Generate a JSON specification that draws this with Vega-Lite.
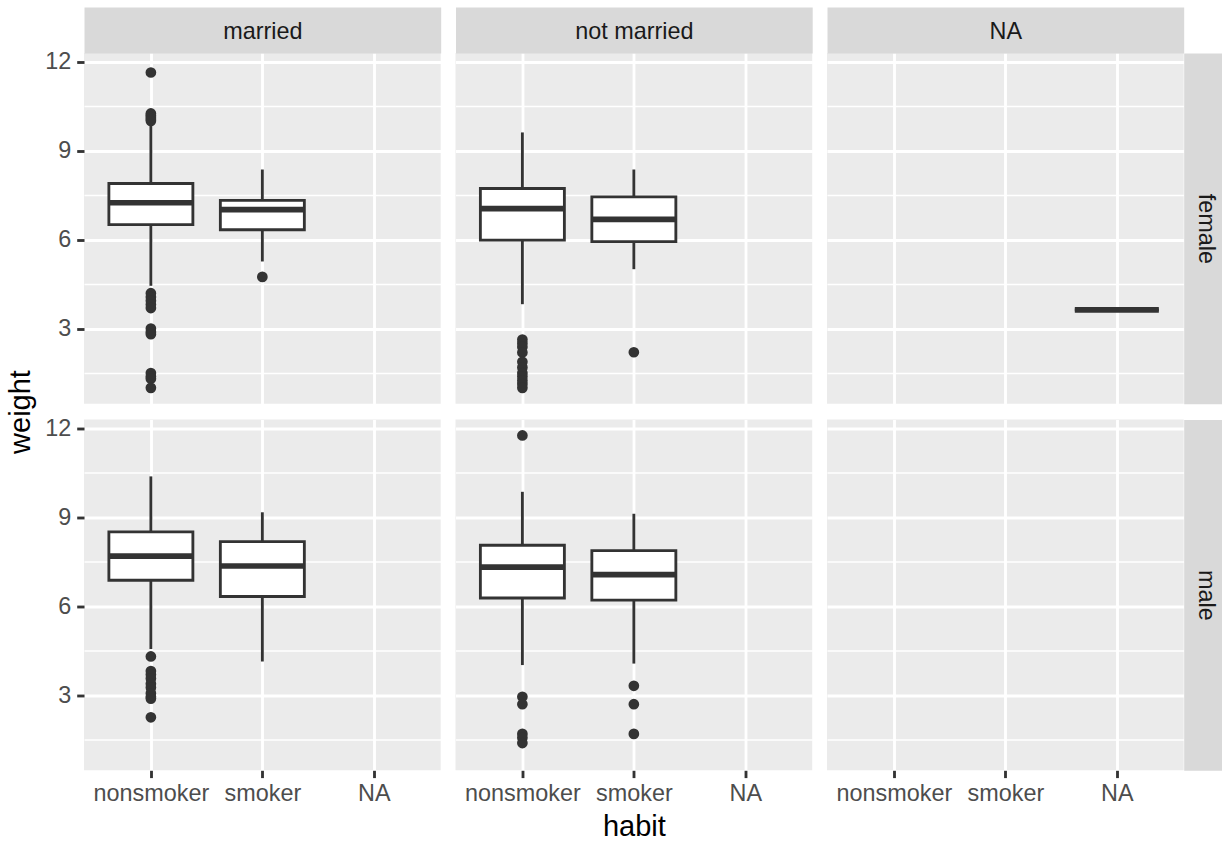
{
  "$schema": "https://vega.github.io/schema/vega-lite/v6.json",
  "padding": {"left": 6, "top": 19, "right": 12, "bottom": 0},
  "config": {
    "font": "Liberation Sans",
    "view": {"fill": "#EBEBEB", "stroke": null},
    "axis": {"titleFontWeight": "normal", "labelFont": "Liberation Sans", "titleFont": "Liberation Sans"}
  },
  "datasets": {
    "births": [
      {"kind": "box", "gender": "female", "marital": "married", "habit": "nonsmoker", "lower": 4.44, "q1": 6.5, "median": 7.24, "q3": 7.89, "upper": 9.94},
      {"kind": "box", "gender": "female", "marital": "married", "habit": "smoker", "lower": 5.26, "q1": 6.33, "median": 7.01, "q3": 7.32, "upper": 8.36},
      {"kind": "box", "gender": "female", "marital": "not married", "habit": "nonsmoker", "lower": 3.82, "q1": 5.98, "median": 7.04, "q3": 7.72, "upper": 9.61},
      {"kind": "box", "gender": "female", "marital": "not married", "habit": "smoker", "lower": 5.0, "q1": 5.93, "median": 6.68, "q3": 7.44, "upper": 8.36},
      {"kind": "box", "gender": "female", "marital": "NA", "habit": "NA", "lower": 3.63, "q1": 3.63, "median": 3.63, "q3": 3.63, "upper": 3.63},
      {"kind": "box", "gender": "male", "marital": "married", "habit": "nonsmoker", "lower": 4.55, "q1": 6.87, "median": 7.68, "q3": 8.5, "upper": 10.37},
      {"kind": "box", "gender": "male", "marital": "married", "habit": "smoker", "lower": 4.13, "q1": 6.32, "median": 7.35, "q3": 8.17, "upper": 9.16},
      {"kind": "box", "gender": "male", "marital": "not married", "habit": "nonsmoker", "lower": 4.01, "q1": 6.27, "median": 7.31, "q3": 8.05, "upper": 9.85},
      {"kind": "box", "gender": "male", "marital": "not married", "habit": "smoker", "lower": 4.06, "q1": 6.2, "median": 7.06, "q3": 7.87, "upper": 9.11},

      {"kind": "outlier", "gender": "female", "marital": "married", "habit": "nonsmoker", "weight": 11.63},
      {"kind": "outlier", "gender": "female", "marital": "married", "habit": "nonsmoker", "weight": 10.25},
      {"kind": "outlier", "gender": "female", "marital": "married", "habit": "nonsmoker", "weight": 10.19},
      {"kind": "outlier", "gender": "female", "marital": "married", "habit": "nonsmoker", "weight": 10.13},
      {"kind": "outlier", "gender": "female", "marital": "married", "habit": "nonsmoker", "weight": 10.06},
      {"kind": "outlier", "gender": "female", "marital": "married", "habit": "nonsmoker", "weight": 10.0},
      {"kind": "outlier", "gender": "female", "marital": "married", "habit": "nonsmoker", "weight": 4.19},
      {"kind": "outlier", "gender": "female", "marital": "married", "habit": "nonsmoker", "weight": 4.06},
      {"kind": "outlier", "gender": "female", "marital": "married", "habit": "nonsmoker", "weight": 3.94},
      {"kind": "outlier", "gender": "female", "marital": "married", "habit": "nonsmoker", "weight": 3.81},
      {"kind": "outlier", "gender": "female", "marital": "married", "habit": "nonsmoker", "weight": 3.69},
      {"kind": "outlier", "gender": "female", "marital": "married", "habit": "nonsmoker", "weight": 3.0},
      {"kind": "outlier", "gender": "female", "marital": "married", "habit": "nonsmoker", "weight": 2.88},
      {"kind": "outlier", "gender": "female", "marital": "married", "habit": "nonsmoker", "weight": 2.81},
      {"kind": "outlier", "gender": "female", "marital": "married", "habit": "nonsmoker", "weight": 1.5},
      {"kind": "outlier", "gender": "female", "marital": "married", "habit": "nonsmoker", "weight": 1.38},
      {"kind": "outlier", "gender": "female", "marital": "married", "habit": "nonsmoker", "weight": 1.31},
      {"kind": "outlier", "gender": "female", "marital": "married", "habit": "nonsmoker", "weight": 1.0},
      {"kind": "outlier", "gender": "female", "marital": "married", "habit": "smoker", "weight": 4.74},
      {"kind": "outlier", "gender": "female", "marital": "not married", "habit": "nonsmoker", "weight": 2.63},
      {"kind": "outlier", "gender": "female", "marital": "not married", "habit": "nonsmoker", "weight": 2.5},
      {"kind": "outlier", "gender": "female", "marital": "not married", "habit": "nonsmoker", "weight": 2.38},
      {"kind": "outlier", "gender": "female", "marital": "not married", "habit": "nonsmoker", "weight": 2.19},
      {"kind": "outlier", "gender": "female", "marital": "not married", "habit": "nonsmoker", "weight": 1.88},
      {"kind": "outlier", "gender": "female", "marital": "not married", "habit": "nonsmoker", "weight": 1.69},
      {"kind": "outlier", "gender": "female", "marital": "not married", "habit": "nonsmoker", "weight": 1.5},
      {"kind": "outlier", "gender": "female", "marital": "not married", "habit": "nonsmoker", "weight": 1.38},
      {"kind": "outlier", "gender": "female", "marital": "not married", "habit": "nonsmoker", "weight": 1.25},
      {"kind": "outlier", "gender": "female", "marital": "not married", "habit": "nonsmoker", "weight": 1.13},
      {"kind": "outlier", "gender": "female", "marital": "not married", "habit": "nonsmoker", "weight": 1.0},
      {"kind": "outlier", "gender": "female", "marital": "not married", "habit": "smoker", "weight": 2.2},
      {"kind": "outlier", "gender": "male", "marital": "married", "habit": "nonsmoker", "weight": 4.3},
      {"kind": "outlier", "gender": "male", "marital": "married", "habit": "nonsmoker", "weight": 3.81},
      {"kind": "outlier", "gender": "male", "marital": "married", "habit": "nonsmoker", "weight": 3.69},
      {"kind": "outlier", "gender": "male", "marital": "married", "habit": "nonsmoker", "weight": 3.56},
      {"kind": "outlier", "gender": "male", "marital": "married", "habit": "nonsmoker", "weight": 3.38},
      {"kind": "outlier", "gender": "male", "marital": "married", "habit": "nonsmoker", "weight": 3.25},
      {"kind": "outlier", "gender": "male", "marital": "married", "habit": "nonsmoker", "weight": 3.06},
      {"kind": "outlier", "gender": "male", "marital": "married", "habit": "nonsmoker", "weight": 2.94},
      {"kind": "outlier", "gender": "male", "marital": "married", "habit": "nonsmoker", "weight": 2.88},
      {"kind": "outlier", "gender": "male", "marital": "married", "habit": "nonsmoker", "weight": 2.25},
      {"kind": "outlier", "gender": "male", "marital": "not married", "habit": "nonsmoker", "weight": 11.75},
      {"kind": "outlier", "gender": "male", "marital": "not married", "habit": "nonsmoker", "weight": 2.94},
      {"kind": "outlier", "gender": "male", "marital": "not married", "habit": "nonsmoker", "weight": 2.69},
      {"kind": "outlier", "gender": "male", "marital": "not married", "habit": "nonsmoker", "weight": 1.69},
      {"kind": "outlier", "gender": "male", "marital": "not married", "habit": "nonsmoker", "weight": 1.56},
      {"kind": "outlier", "gender": "male", "marital": "not married", "habit": "nonsmoker", "weight": 1.38},
      {"kind": "outlier", "gender": "male", "marital": "not married", "habit": "smoker", "weight": 3.31},
      {"kind": "outlier", "gender": "male", "marital": "not married", "habit": "smoker", "weight": 2.69},
      {"kind": "outlier", "gender": "male", "marital": "not married", "habit": "smoker", "weight": 1.69}
    ]
  },
  "columns": 3,
  "spacing": {"row": 15.5, "column": 14.5},
  "bounds": "flush",
  "concat": [
    {
      "width": 356.7, "height": 350.8,
      "data": {"name": "births"},
      "transform": [{"filter": "datum.gender === 'female' && datum.marital === 'married'"}],
      "encoding": {
        "x": {"field": "habit", "type": "nominal", "scale": {"type": "point", "domain": ["nonsmoker", "smoker", "NA"], "padding": 0.6},
          "axis": {"orient": "top", "grid": true, "gridColor": "#FFFFFF", "gridWidth": 2.84, "ticks": false, "labels": false, "domain": true, "domainColor": "#D9D9D9", "domainWidth": 46, "domainCap": "butt", "offset": 23, "title": "married", "titleY": 8, "titleBaseline": "alphabetic", "titleFontSize": 23.4, "titleColor": "#1A1A1A"}}
      },
      "layer": [
        {"transform": [{"filter": "datum.kind === 'box'"}], "mark": {"type": "rule", "color": "#333333", "strokeWidth": 2.84},
          "encoding": {"y": {"field": "lower", "type": "quantitative", "scale": {"domain": [0.4625, 12.2875], "nice": false, "zero": false},
            "axis": {"orient": "left", "values": [1.5, 3, 4.5, 6, 7.5, 9, 10.5, 12], "grid": true, "gridColor": "#FFFFFF", "gridWidth": {"condition": {"test": "datum.value % 3 !== 0", "value": 1.42}, "value": 2.84}, "domain": false, "ticks": true, "tickColor": "#333333", "tickWidth": 2.84, "tickSize": 7.3, "tickOpacity": {"condition": {"test": "datum.value % 3 !== 0", "value": 0}, "value": 1}, "labelExpr": "datum.value % 3 === 0 ? datum.label : ''", "labelOverlap": false, "labelFontSize": 23.4, "labelColor": "#4D4D4D", "labelPadding": 6, "title": "weight", "titleFontSize": 29, "titleColor": "#000000", "titleX": -55, "titleY": 358.5, "titleAngle": 270, "titleBaseline": "alphabetic", "titleAlign": "center"}},
            "y2": {"field": "upper"}}},
        {"transform": [{"filter": "datum.kind === 'box'"}], "mark": {"type": "bar", "size": 84, "fill": "#FFFFFF", "stroke": "#333333", "strokeWidth": 2.84},
          "encoding": {"y": {"field": "q1", "type": "quantitative", "scale": {"domain": [0.4625, 12.2875], "nice": false, "zero": false},
            "axis": {"orient": "left", "values": [1.5, 3, 4.5, 6, 7.5, 9, 10.5, 12], "grid": true, "gridColor": "#FFFFFF", "gridWidth": {"condition": {"test": "datum.value % 3 !== 0", "value": 1.42}, "value": 2.84}, "domain": false, "ticks": true, "tickColor": "#333333", "tickWidth": 2.84, "tickSize": 7.3, "tickOpacity": {"condition": {"test": "datum.value % 3 !== 0", "value": 0}, "value": 1}, "labelExpr": "datum.value % 3 === 0 ? datum.label : ''", "labelOverlap": false, "labelFontSize": 23.4, "labelColor": "#4D4D4D", "labelPadding": 6, "title": "weight", "titleFontSize": 29, "titleColor": "#000000", "titleX": -55, "titleY": 358.5, "titleAngle": 270, "titleBaseline": "alphabetic", "titleAlign": "center"}},
            "y2": {"field": "q3"}}},
        {"transform": [{"filter": "datum.kind === 'box'"}], "mark": {"type": "tick", "size": 84, "thickness": 5.7, "color": "#333333", "opacity": 1},
          "encoding": {"y": {"field": "median", "type": "quantitative", "scale": {"domain": [0.4625, 12.2875], "nice": false, "zero": false},
            "axis": {"orient": "left", "values": [1.5, 3, 4.5, 6, 7.5, 9, 10.5, 12], "grid": true, "gridColor": "#FFFFFF", "gridWidth": {"condition": {"test": "datum.value % 3 !== 0", "value": 1.42}, "value": 2.84}, "domain": false, "ticks": true, "tickColor": "#333333", "tickWidth": 2.84, "tickSize": 7.3, "tickOpacity": {"condition": {"test": "datum.value % 3 !== 0", "value": 0}, "value": 1}, "labelExpr": "datum.value % 3 === 0 ? datum.label : ''", "labelOverlap": false, "labelFontSize": 23.4, "labelColor": "#4D4D4D", "labelPadding": 6, "title": "weight", "titleFontSize": 29, "titleColor": "#000000", "titleX": -55, "titleY": 358.5, "titleAngle": 270, "titleBaseline": "alphabetic", "titleAlign": "center"}}}},
        {"transform": [{"filter": "datum.kind === 'outlier'"}], "mark": {"type": "circle", "size": 115, "color": "#333333", "opacity": 1},
          "encoding": {"y": {"field": "weight", "type": "quantitative", "scale": {"domain": [0.4625, 12.2875], "nice": false, "zero": false},
            "axis": {"orient": "left", "values": [1.5, 3, 4.5, 6, 7.5, 9, 10.5, 12], "grid": true, "gridColor": "#FFFFFF", "gridWidth": {"condition": {"test": "datum.value % 3 !== 0", "value": 1.42}, "value": 2.84}, "domain": false, "ticks": true, "tickColor": "#333333", "tickWidth": 2.84, "tickSize": 7.3, "tickOpacity": {"condition": {"test": "datum.value % 3 !== 0", "value": 0}, "value": 1}, "labelExpr": "datum.value % 3 === 0 ? datum.label : ''", "labelOverlap": false, "labelFontSize": 23.4, "labelColor": "#4D4D4D", "labelPadding": 6, "title": "weight", "titleFontSize": 29, "titleColor": "#000000", "titleX": -55, "titleY": 358.5, "titleAngle": 270, "titleBaseline": "alphabetic", "titleAlign": "center"}}}}
      ]
    },
    {
      "width": 356.7, "height": 350.8,
      "data": {"name": "births"},
      "transform": [{"filter": "datum.gender === 'female' && datum.marital === 'not married'"}],
      "encoding": {
        "x": {"field": "habit", "type": "nominal", "scale": {"type": "point", "domain": ["nonsmoker", "smoker", "NA"], "padding": 0.6},
          "axis": {"orient": "top", "grid": true, "gridColor": "#FFFFFF", "gridWidth": 2.84, "ticks": false, "labels": false, "domain": true, "domainColor": "#D9D9D9", "domainWidth": 46, "domainCap": "butt", "offset": 23, "title": "not married", "titleY": 8, "titleBaseline": "alphabetic", "titleFontSize": 23.4, "titleColor": "#1A1A1A"}}
      },
      "layer": [
        {"transform": [{"filter": "datum.kind === 'box'"}], "mark": {"type": "rule", "color": "#333333", "strokeWidth": 2.84},
          "encoding": {"y": {"field": "lower", "type": "quantitative", "scale": {"domain": [0.4625, 12.2875], "nice": false, "zero": false},
            "axis": {"orient": "left", "values": [1.5, 3, 4.5, 6, 7.5, 9, 10.5, 12], "grid": true, "gridColor": "#FFFFFF", "gridWidth": {"condition": {"test": "datum.value % 3 !== 0", "value": 1.42}, "value": 2.84}, "domain": false, "ticks": false, "labels": false, "title": null}},
            "y2": {"field": "upper"}}},
        {"transform": [{"filter": "datum.kind === 'box'"}], "mark": {"type": "bar", "size": 84, "fill": "#FFFFFF", "stroke": "#333333", "strokeWidth": 2.84},
          "encoding": {"y": {"field": "q1", "type": "quantitative", "scale": {"domain": [0.4625, 12.2875], "nice": false, "zero": false},
            "axis": {"orient": "left", "values": [1.5, 3, 4.5, 6, 7.5, 9, 10.5, 12], "grid": true, "gridColor": "#FFFFFF", "gridWidth": {"condition": {"test": "datum.value % 3 !== 0", "value": 1.42}, "value": 2.84}, "domain": false, "ticks": false, "labels": false, "title": null}},
            "y2": {"field": "q3"}}},
        {"transform": [{"filter": "datum.kind === 'box'"}], "mark": {"type": "tick", "size": 84, "thickness": 5.7, "color": "#333333", "opacity": 1},
          "encoding": {"y": {"field": "median", "type": "quantitative", "scale": {"domain": [0.4625, 12.2875], "nice": false, "zero": false},
            "axis": {"orient": "left", "values": [1.5, 3, 4.5, 6, 7.5, 9, 10.5, 12], "grid": true, "gridColor": "#FFFFFF", "gridWidth": {"condition": {"test": "datum.value % 3 !== 0", "value": 1.42}, "value": 2.84}, "domain": false, "ticks": false, "labels": false, "title": null}}}},
        {"transform": [{"filter": "datum.kind === 'outlier'"}], "mark": {"type": "circle", "size": 115, "color": "#333333", "opacity": 1},
          "encoding": {"y": {"field": "weight", "type": "quantitative", "scale": {"domain": [0.4625, 12.2875], "nice": false, "zero": false},
            "axis": {"orient": "left", "values": [1.5, 3, 4.5, 6, 7.5, 9, 10.5, 12], "grid": true, "gridColor": "#FFFFFF", "gridWidth": {"condition": {"test": "datum.value % 3 !== 0", "value": 1.42}, "value": 2.84}, "domain": false, "ticks": false, "labels": false, "title": null}}}}
      ]
    },
    {
      "width": 356.7, "height": 350.8,
      "data": {"name": "births"},
      "transform": [{"filter": "datum.gender === 'female' && datum.marital === 'NA'"}],
      "encoding": {
        "x": {"field": "habit", "type": "nominal", "scale": {"type": "point", "domain": ["nonsmoker", "smoker", "NA"], "padding": 0.6},
          "axis": {"orient": "top", "grid": true, "gridColor": "#FFFFFF", "gridWidth": 2.84, "ticks": false, "labels": false, "domain": true, "domainColor": "#D9D9D9", "domainWidth": 46, "domainCap": "butt", "offset": 23, "title": "NA", "titleY": 8, "titleBaseline": "alphabetic", "titleFontSize": 23.4, "titleColor": "#1A1A1A"}}
      },
      "layer": [
        {"transform": [{"filter": "datum.kind === 'box'"}], "mark": {"type": "rule", "color": "#333333", "strokeWidth": 2.84},
          "encoding": {"y": {"field": "lower", "type": "quantitative", "scale": {"domain": [0.4625, 12.2875], "nice": false, "zero": false},
            "axis": {"orient": "right", "values": [1.5, 3, 4.5, 6, 7.5, 9, 10.5, 12], "grid": true, "gridColor": "#FFFFFF", "gridWidth": {"condition": {"test": "datum.value % 3 !== 0", "value": 1.42}, "value": 2.84}, "ticks": false, "labels": false, "domain": true, "domainColor": "#D9D9D9", "domainWidth": 39.4, "domainCap": "butt", "offset": 19.7, "title": "female", "titleAngle": 90, "titleX": -4.5, "titleBaseline": "alphabetic", "titleAlign": "center", "titleFontSize": 23.4, "titleColor": "#1A1A1A"}},
            "y2": {"field": "upper"}}},
        {"transform": [{"filter": "datum.kind === 'box'"}], "mark": {"type": "bar", "size": 84, "fill": "#FFFFFF", "stroke": "#333333", "strokeWidth": 2.84},
          "encoding": {"y": {"field": "q1", "type": "quantitative", "scale": {"domain": [0.4625, 12.2875], "nice": false, "zero": false},
            "axis": {"orient": "right", "values": [1.5, 3, 4.5, 6, 7.5, 9, 10.5, 12], "grid": true, "gridColor": "#FFFFFF", "gridWidth": {"condition": {"test": "datum.value % 3 !== 0", "value": 1.42}, "value": 2.84}, "ticks": false, "labels": false, "domain": true, "domainColor": "#D9D9D9", "domainWidth": 39.4, "domainCap": "butt", "offset": 19.7, "title": "female", "titleAngle": 90, "titleX": -4.5, "titleBaseline": "alphabetic", "titleAlign": "center", "titleFontSize": 23.4, "titleColor": "#1A1A1A"}},
            "y2": {"field": "q3"}}},
        {"transform": [{"filter": "datum.kind === 'box'"}], "mark": {"type": "tick", "size": 84, "thickness": 5.7, "color": "#333333", "opacity": 1},
          "encoding": {"y": {"field": "median", "type": "quantitative", "scale": {"domain": [0.4625, 12.2875], "nice": false, "zero": false},
            "axis": {"orient": "right", "values": [1.5, 3, 4.5, 6, 7.5, 9, 10.5, 12], "grid": true, "gridColor": "#FFFFFF", "gridWidth": {"condition": {"test": "datum.value % 3 !== 0", "value": 1.42}, "value": 2.84}, "ticks": false, "labels": false, "domain": true, "domainColor": "#D9D9D9", "domainWidth": 39.4, "domainCap": "butt", "offset": 19.7, "title": "female", "titleAngle": 90, "titleX": -4.5, "titleBaseline": "alphabetic", "titleAlign": "center", "titleFontSize": 23.4, "titleColor": "#1A1A1A"}}}},
        {"transform": [{"filter": "datum.kind === 'outlier'"}], "mark": {"type": "circle", "size": 115, "color": "#333333", "opacity": 1},
          "encoding": {"y": {"field": "weight", "type": "quantitative", "scale": {"domain": [0.4625, 12.2875], "nice": false, "zero": false},
            "axis": {"orient": "right", "values": [1.5, 3, 4.5, 6, 7.5, 9, 10.5, 12], "grid": true, "gridColor": "#FFFFFF", "gridWidth": {"condition": {"test": "datum.value % 3 !== 0", "value": 1.42}, "value": 2.84}, "ticks": false, "labels": false, "domain": true, "domainColor": "#D9D9D9", "domainWidth": 39.4, "domainCap": "butt", "offset": 19.7, "title": "female", "titleAngle": 90, "titleX": -4.5, "titleBaseline": "alphabetic", "titleAlign": "center", "titleFontSize": 23.4, "titleColor": "#1A1A1A"}}}}
      ]
    },
    {
      "width": 356.7, "height": 350.8,
      "data": {"name": "births"},
      "transform": [{"filter": "datum.gender === 'male' && datum.marital === 'married'"}],
      "encoding": {
        "x": {"field": "habit", "type": "nominal", "scale": {"type": "point", "domain": ["nonsmoker", "smoker", "NA"], "padding": 0.6},
          "axis": {"orient": "bottom", "grid": true, "gridColor": "#FFFFFF", "gridWidth": 2.84, "domain": false, "ticks": true, "tickColor": "#333333", "tickWidth": 2.84, "tickSize": 7.3, "labels": true, "labelAngle": 0, "labelFontSize": 23.4, "labelColor": "#4D4D4D", "labelBaseline": "alphabetic", "labelPadding": 23, "title": null}}
      },
      "layer": [
        {"transform": [{"filter": "datum.kind === 'box'"}], "mark": {"type": "rule", "color": "#333333", "strokeWidth": 2.84},
          "encoding": {"y": {"field": "lower", "type": "quantitative", "scale": {"domain": [0.4625, 12.2875], "nice": false, "zero": false},
            "axis": {"orient": "left", "values": [1.5, 3, 4.5, 6, 7.5, 9, 10.5, 12], "grid": true, "gridColor": "#FFFFFF", "gridWidth": {"condition": {"test": "datum.value % 3 !== 0", "value": 1.42}, "value": 2.84}, "domain": false, "ticks": true, "tickColor": "#333333", "tickWidth": 2.84, "tickSize": 7.3, "tickOpacity": {"condition": {"test": "datum.value % 3 !== 0", "value": 0}, "value": 1}, "labelExpr": "datum.value % 3 === 0 ? datum.label : ''", "labelOverlap": false, "labelFontSize": 23.4, "labelColor": "#4D4D4D", "labelPadding": 6, "title": null}},
            "y2": {"field": "upper"}}},
        {"transform": [{"filter": "datum.kind === 'box'"}], "mark": {"type": "bar", "size": 84, "fill": "#FFFFFF", "stroke": "#333333", "strokeWidth": 2.84},
          "encoding": {"y": {"field": "q1", "type": "quantitative", "scale": {"domain": [0.4625, 12.2875], "nice": false, "zero": false},
            "axis": {"orient": "left", "values": [1.5, 3, 4.5, 6, 7.5, 9, 10.5, 12], "grid": true, "gridColor": "#FFFFFF", "gridWidth": {"condition": {"test": "datum.value % 3 !== 0", "value": 1.42}, "value": 2.84}, "domain": false, "ticks": true, "tickColor": "#333333", "tickWidth": 2.84, "tickSize": 7.3, "tickOpacity": {"condition": {"test": "datum.value % 3 !== 0", "value": 0}, "value": 1}, "labelExpr": "datum.value % 3 === 0 ? datum.label : ''", "labelOverlap": false, "labelFontSize": 23.4, "labelColor": "#4D4D4D", "labelPadding": 6, "title": null}},
            "y2": {"field": "q3"}}},
        {"transform": [{"filter": "datum.kind === 'box'"}], "mark": {"type": "tick", "size": 84, "thickness": 5.7, "color": "#333333", "opacity": 1},
          "encoding": {"y": {"field": "median", "type": "quantitative", "scale": {"domain": [0.4625, 12.2875], "nice": false, "zero": false},
            "axis": {"orient": "left", "values": [1.5, 3, 4.5, 6, 7.5, 9, 10.5, 12], "grid": true, "gridColor": "#FFFFFF", "gridWidth": {"condition": {"test": "datum.value % 3 !== 0", "value": 1.42}, "value": 2.84}, "domain": false, "ticks": true, "tickColor": "#333333", "tickWidth": 2.84, "tickSize": 7.3, "tickOpacity": {"condition": {"test": "datum.value % 3 !== 0", "value": 0}, "value": 1}, "labelExpr": "datum.value % 3 === 0 ? datum.label : ''", "labelOverlap": false, "labelFontSize": 23.4, "labelColor": "#4D4D4D", "labelPadding": 6, "title": null}}}},
        {"transform": [{"filter": "datum.kind === 'outlier'"}], "mark": {"type": "circle", "size": 115, "color": "#333333", "opacity": 1},
          "encoding": {"y": {"field": "weight", "type": "quantitative", "scale": {"domain": [0.4625, 12.2875], "nice": false, "zero": false},
            "axis": {"orient": "left", "values": [1.5, 3, 4.5, 6, 7.5, 9, 10.5, 12], "grid": true, "gridColor": "#FFFFFF", "gridWidth": {"condition": {"test": "datum.value % 3 !== 0", "value": 1.42}, "value": 2.84}, "domain": false, "ticks": true, "tickColor": "#333333", "tickWidth": 2.84, "tickSize": 7.3, "tickOpacity": {"condition": {"test": "datum.value % 3 !== 0", "value": 0}, "value": 1}, "labelExpr": "datum.value % 3 === 0 ? datum.label : ''", "labelOverlap": false, "labelFontSize": 23.4, "labelColor": "#4D4D4D", "labelPadding": 6, "title": null}}}}
      ]
    },
    {
      "width": 356.7, "height": 350.8,
      "data": {"name": "births"},
      "transform": [{"filter": "datum.gender === 'male' && datum.marital === 'not married'"}],
      "encoding": {
        "x": {"field": "habit", "type": "nominal", "scale": {"type": "point", "domain": ["nonsmoker", "smoker", "NA"], "padding": 0.6},
          "axis": {"orient": "bottom", "grid": true, "gridColor": "#FFFFFF", "gridWidth": 2.84, "domain": false, "ticks": true, "tickColor": "#333333", "tickWidth": 2.84, "tickSize": 7.3, "labels": true, "labelAngle": 0, "labelFontSize": 23.4, "labelColor": "#4D4D4D", "labelBaseline": "alphabetic", "labelPadding": 23, "title": "habit", "titleFontSize": 29, "titleColor": "#000000", "titleY": 65, "titleBaseline": "alphabetic"}}
      },
      "layer": [
        {"transform": [{"filter": "datum.kind === 'box'"}], "mark": {"type": "rule", "color": "#333333", "strokeWidth": 2.84},
          "encoding": {"y": {"field": "lower", "type": "quantitative", "scale": {"domain": [0.4625, 12.2875], "nice": false, "zero": false},
            "axis": {"orient": "left", "values": [1.5, 3, 4.5, 6, 7.5, 9, 10.5, 12], "grid": true, "gridColor": "#FFFFFF", "gridWidth": {"condition": {"test": "datum.value % 3 !== 0", "value": 1.42}, "value": 2.84}, "domain": false, "ticks": false, "labels": false, "title": null}},
            "y2": {"field": "upper"}}},
        {"transform": [{"filter": "datum.kind === 'box'"}], "mark": {"type": "bar", "size": 84, "fill": "#FFFFFF", "stroke": "#333333", "strokeWidth": 2.84},
          "encoding": {"y": {"field": "q1", "type": "quantitative", "scale": {"domain": [0.4625, 12.2875], "nice": false, "zero": false},
            "axis": {"orient": "left", "values": [1.5, 3, 4.5, 6, 7.5, 9, 10.5, 12], "grid": true, "gridColor": "#FFFFFF", "gridWidth": {"condition": {"test": "datum.value % 3 !== 0", "value": 1.42}, "value": 2.84}, "domain": false, "ticks": false, "labels": false, "title": null}},
            "y2": {"field": "q3"}}},
        {"transform": [{"filter": "datum.kind === 'box'"}], "mark": {"type": "tick", "size": 84, "thickness": 5.7, "color": "#333333", "opacity": 1},
          "encoding": {"y": {"field": "median", "type": "quantitative", "scale": {"domain": [0.4625, 12.2875], "nice": false, "zero": false},
            "axis": {"orient": "left", "values": [1.5, 3, 4.5, 6, 7.5, 9, 10.5, 12], "grid": true, "gridColor": "#FFFFFF", "gridWidth": {"condition": {"test": "datum.value % 3 !== 0", "value": 1.42}, "value": 2.84}, "domain": false, "ticks": false, "labels": false, "title": null}}}},
        {"transform": [{"filter": "datum.kind === 'outlier'"}], "mark": {"type": "circle", "size": 115, "color": "#333333", "opacity": 1},
          "encoding": {"y": {"field": "weight", "type": "quantitative", "scale": {"domain": [0.4625, 12.2875], "nice": false, "zero": false},
            "axis": {"orient": "left", "values": [1.5, 3, 4.5, 6, 7.5, 9, 10.5, 12], "grid": true, "gridColor": "#FFFFFF", "gridWidth": {"condition": {"test": "datum.value % 3 !== 0", "value": 1.42}, "value": 2.84}, "domain": false, "ticks": false, "labels": false, "title": null}}}}
      ]
    },
    {
      "width": 356.7, "height": 350.8,
      "data": {"name": "births"},
      "transform": [{"filter": "datum.gender === 'male' && datum.marital === 'NA'"}],
      "encoding": {
        "x": {"field": "habit", "type": "nominal", "scale": {"type": "point", "domain": ["nonsmoker", "smoker", "NA"], "padding": 0.6},
          "axis": {"orient": "bottom", "grid": true, "gridColor": "#FFFFFF", "gridWidth": 2.84, "domain": false, "ticks": true, "tickColor": "#333333", "tickWidth": 2.84, "tickSize": 7.3, "labels": true, "labelAngle": 0, "labelFontSize": 23.4, "labelColor": "#4D4D4D", "labelBaseline": "alphabetic", "labelPadding": 23, "title": null}}
      },
      "layer": [
        {"transform": [{"filter": "datum.kind === 'box'"}], "mark": {"type": "rule", "color": "#333333", "strokeWidth": 2.84},
          "encoding": {"y": {"field": "lower", "type": "quantitative", "scale": {"domain": [0.4625, 12.2875], "nice": false, "zero": false},
            "axis": {"orient": "right", "values": [1.5, 3, 4.5, 6, 7.5, 9, 10.5, 12], "grid": true, "gridColor": "#FFFFFF", "gridWidth": {"condition": {"test": "datum.value % 3 !== 0", "value": 1.42}, "value": 2.84}, "ticks": false, "labels": false, "domain": true, "domainColor": "#D9D9D9", "domainWidth": 39.4, "domainCap": "butt", "offset": 19.7, "title": "male", "titleAngle": 90, "titleX": -4.5, "titleBaseline": "alphabetic", "titleAlign": "center", "titleFontSize": 23.4, "titleColor": "#1A1A1A"}},
            "y2": {"field": "upper"}}},
        {"transform": [{"filter": "datum.kind === 'box'"}], "mark": {"type": "bar", "size": 84, "fill": "#FFFFFF", "stroke": "#333333", "strokeWidth": 2.84},
          "encoding": {"y": {"field": "q1", "type": "quantitative", "scale": {"domain": [0.4625, 12.2875], "nice": false, "zero": false},
            "axis": {"orient": "right", "values": [1.5, 3, 4.5, 6, 7.5, 9, 10.5, 12], "grid": true, "gridColor": "#FFFFFF", "gridWidth": {"condition": {"test": "datum.value % 3 !== 0", "value": 1.42}, "value": 2.84}, "ticks": false, "labels": false, "domain": true, "domainColor": "#D9D9D9", "domainWidth": 39.4, "domainCap": "butt", "offset": 19.7, "title": "male", "titleAngle": 90, "titleX": -4.5, "titleBaseline": "alphabetic", "titleAlign": "center", "titleFontSize": 23.4, "titleColor": "#1A1A1A"}},
            "y2": {"field": "q3"}}},
        {"transform": [{"filter": "datum.kind === 'box'"}], "mark": {"type": "tick", "size": 84, "thickness": 5.7, "color": "#333333", "opacity": 1},
          "encoding": {"y": {"field": "median", "type": "quantitative", "scale": {"domain": [0.4625, 12.2875], "nice": false, "zero": false},
            "axis": {"orient": "right", "values": [1.5, 3, 4.5, 6, 7.5, 9, 10.5, 12], "grid": true, "gridColor": "#FFFFFF", "gridWidth": {"condition": {"test": "datum.value % 3 !== 0", "value": 1.42}, "value": 2.84}, "ticks": false, "labels": false, "domain": true, "domainColor": "#D9D9D9", "domainWidth": 39.4, "domainCap": "butt", "offset": 19.7, "title": "male", "titleAngle": 90, "titleX": -4.5, "titleBaseline": "alphabetic", "titleAlign": "center", "titleFontSize": 23.4, "titleColor": "#1A1A1A"}}}},
        {"transform": [{"filter": "datum.kind === 'outlier'"}], "mark": {"type": "circle", "size": 115, "color": "#333333", "opacity": 1},
          "encoding": {"y": {"field": "weight", "type": "quantitative", "scale": {"domain": [0.4625, 12.2875], "nice": false, "zero": false},
            "axis": {"orient": "right", "values": [1.5, 3, 4.5, 6, 7.5, 9, 10.5, 12], "grid": true, "gridColor": "#FFFFFF", "gridWidth": {"condition": {"test": "datum.value % 3 !== 0", "value": 1.42}, "value": 2.84}, "ticks": false, "labels": false, "domain": true, "domainColor": "#D9D9D9", "domainWidth": 39.4, "domainCap": "butt", "offset": 19.7, "title": "male", "titleAngle": 90, "titleX": -4.5, "titleBaseline": "alphabetic", "titleAlign": "center", "titleFontSize": 23.4, "titleColor": "#1A1A1A"}}}}
      ]
    }
  ]
}
